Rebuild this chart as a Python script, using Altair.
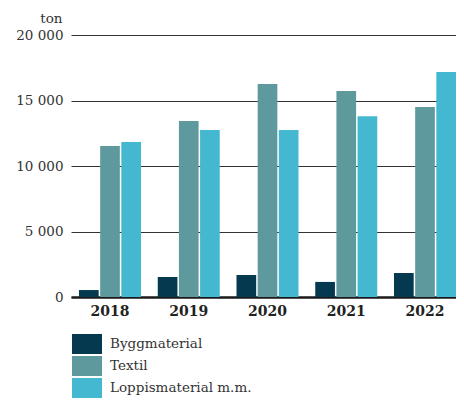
import altair as alt
import pandas as pd

years = ["2018", "2019", "2020", "2021", "2022"]
categories = ["Byggmaterial", "Textil", "Loppismaterial m.m."]
bygg = [530, 1530, 1680, 1150, 1830]
textil = [11530, 13430, 16260, 15730, 14500]
loppis = [11830, 12750, 12750, 13800, 17180]
colors = ["#04394f", "#5e9a9d", "#43b8d0"]
y_ticks = [0, 5000, 10000, 15000, 20000]

rows = []
for i, yr in enumerate(years):
    for cat, vals in zip(categories, [bygg, textil, loppis]):
        rows.append({"År": yr, "Kategori": cat, "Ton": vals[i]})
df = pd.DataFrame(rows)

FONT = "DejaVu Serif"

chart = alt.Chart(df).mark_bar().encode(
    x=alt.X(
        "År:N", sort=years,
        scale=alt.Scale(paddingInner=0.2127, paddingOuter=0.0508, align=1.0),
        axis=alt.Axis(title=None, labelAngle=0, labelFont=FONT, labelFontSize=14,
                      labelFontWeight="bold", labelColor="#222", ticks=False,
                      domainColor="#1a1a1a", domainWidth=2.5, labelPadding=7),
    ),
    xOffset=alt.XOffset("Kategori:N", sort=categories, scale=alt.Scale(paddingInner=0.07)),
    y=alt.Y(
        "Ton:Q", scale=alt.Scale(domain=[0, 20000]),
        axis=alt.Axis(values=y_ticks,
                      labelExpr="replace(format(datum.value, ','), ',', ' ')",
                      title="ton", titleAngle=0, titleAlign="right", titleX=-9, titleY=-13,
                      titleBaseline="alphabetic", titleFont=FONT, titleFontSize=13.5,
                      titleFontWeight="normal", titleColor="#333",
                      labelFont=FONT, labelFontSize=13.5, labelColor="#333",
                      grid=True, gridColor="#333", gridWidth=1,
                      domain=False, ticks=False, labelPadding=8),
    ),
    color=alt.Color(
        "Kategori:N", sort=categories,
        scale=alt.Scale(domain=categories, range=colors),
        legend=alt.Legend(orient="none", legendX=6, legendY=299, title=None,
                          symbolType="M-1.5,-1L1.5,-1L1.5,1L-1.5,1Z", symbolSize=400,
                          symbolStrokeWidth=0, labelOffset=13, rowPadding=2,
                          labelFont=FONT, labelFontSize=13.5, labelColor="#333"),
    ),
).properties(
    width=385, height=262,
    padding={"left": 63, "top": 27, "right": 0, "bottom": 104},
    autosize=alt.AutoSizeParams(type="none"),
).configure_view(stroke=None)

chart.save("out.html", embed_options={"renderer": "svg", "actions": False})
